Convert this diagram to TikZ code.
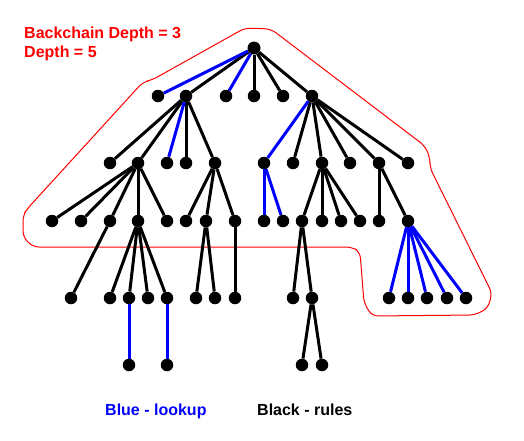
\documentclass[tikz,border=0pt]{standalone}
\usepackage{fontspec}
\setmainfont{Liberation Sans}
\begin{document}
\begin{tikzpicture}[x=1pt,y=-1pt,
  dot/.style={circle,fill=black,inner sep=0pt,minimum size=12.5pt},
  rule/.style={line width=3pt,black},
  look/.style={line width=3pt,blue},
  lbl/.style={anchor=base west,inner sep=0pt,font=\fontsize{16}{19}\selectfont\bfseries}]
\useasboundingbox (0,0) rectangle (524,440);
% outline
\draw[red,line width=1pt,rounded corners=6pt]
  (245,28) -- (271,29) -- (425,146) -- (430,158) -- (430,168) -- (492,293) -- (488,308) -- (475,315)
  -- (372,316) -- (364,303) -- (360,252) -- (352,247) -- (33,247) -- (23,237) -- (23,215)
  -- (28,208) -- (143,82) -- (152,80) -- cycle;
% nodes
\node[dot,minimum size=13pt] (R) at (254,48) {};
\foreach \n/\x in {a1/158,a2/186,a3/226,a4/254,a5/283,a6/312} \node[dot] (\n) at (\x,96) {};
\foreach \n/\x in {b1/110,b2/138,b3/167,b4/186,b5/215,b6/264,b7/293,b8/322,b9/350,b10/379,b11/408} \node[dot] (\n) at (\x,163) {};
\foreach \n/\x in {c1/52,c2/81,c3/110,c4/138,c5/167,c6/186,c7/206,c8/235,c9/264,c10/283,c11/302,c12/322,c13/341,c14/360,c15/379,c16/408} \node[dot] (\n) at (\x,221) {};
\foreach \n/\x in {d1/71,d2/110,d3/129,d4/148,d5/167,d6/196,d7/215,d8/235,d9/293,d10/312,d11/389,d12/408,d13/427,d14/447,d15/466} \node[dot] (\n) at (\x,298) {};
\foreach \n/\x in {e1/129,e2/167,e3/302,e4/322} \node[dot] (\n) at (\x,365) {};
% edges
\foreach \a/\b in {R/a2,R/a4,R/a5,R/a6,
  a2/b1,a2/b2,a2/b4,a2/b5,
  a6/b7,a6/b8,a6/b9,a6/b10,a6/b11,
  b2/c1,b2/c2,b2/c3,b2/c4,b2/c5,b5/c6,b5/c7,b5/c8,
  b8/c11,b8/c12,b8/c13,b8/c14,b10/c15,b10/c16,
  c3/d1,c4/d2,c4/d3,c4/d4,c4/d5,c7/d6,c7/d7,c8/d8,c11/d9,c11/d10,
  d10/e3,d10/e4}
  \draw[rule] (\a) -- (\b);
\foreach \a/\b in {R/a1,R/a3,a2/b3,a6/b6,b6/c9,b6/c10,
  c16/d11,c16/d12,c16/d13,c16/d14,c16/d15,d3/e1,d5/e2}
  \draw[look] (\a) -- (\b);
% labels
\node[lbl,red] (t1) at (24,38) {Backchain Depth = 3};
\node[lbl,red] (t2) at (24,57) {Depth = 5};
\node[lbl,blue] (t3) at (105,415) {Blue - lookup};
\node[lbl,black] (t4) at (257,415) {Black - rules};
\end{tikzpicture}
\end{document}
